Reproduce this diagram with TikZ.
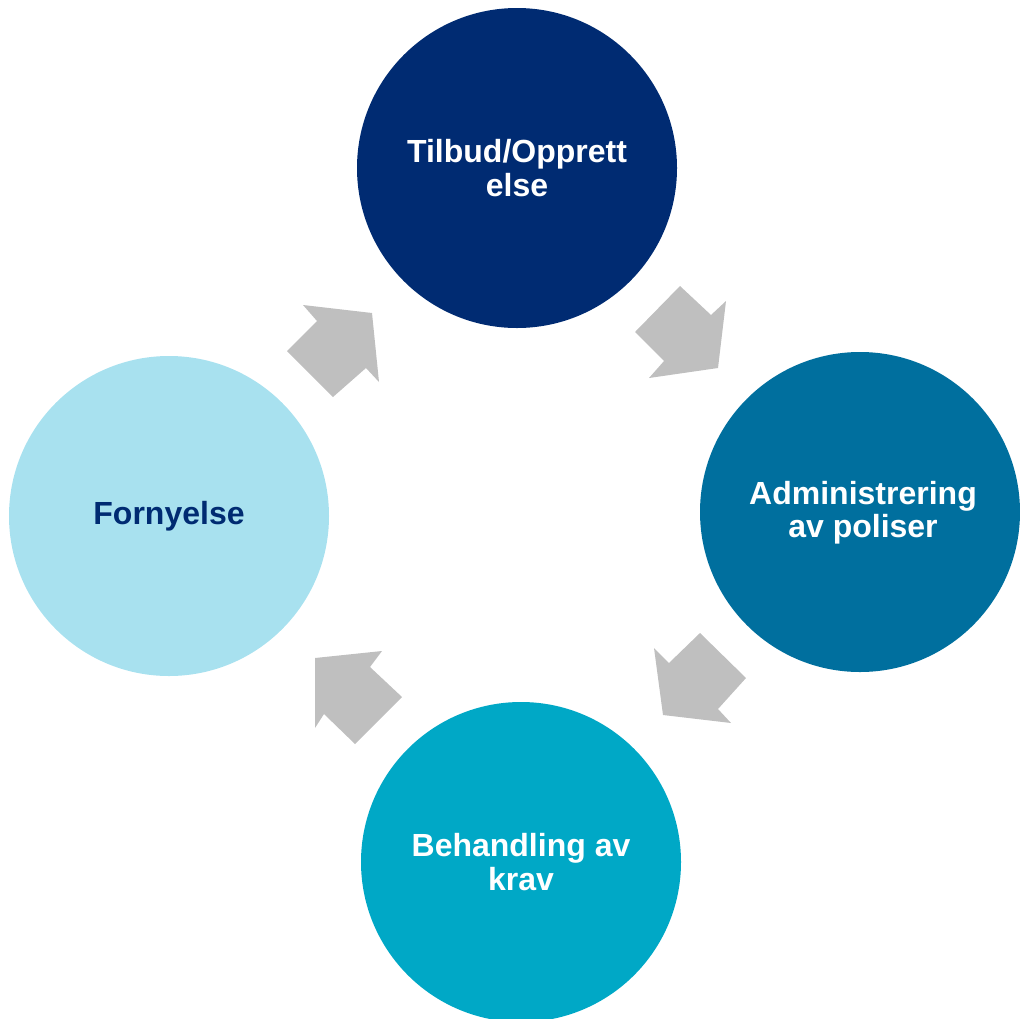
\documentclass[tikz,border=0pt]{standalone}
\usepackage{fontspec}
\setmainfont{Liberation Sans}
\definecolor{cnavy}{HTML}{002B72}
\definecolor{cteal}{HTML}{006F9E}
\definecolor{ccyan}{HTML}{00A8C6}
\definecolor{clight}{HTML}{A8E1EF}
\definecolor{cgray}{HTML}{BFBFBF}
\tikzset{
  stage/.style={circle,minimum size=240pt,inner sep=0pt,align=center,font=\bfseries\fontsize{24}{25}\selectfont},
  blockarrow/.style={fill=cgray,draw=none}
}
\begin{document}
\begin{tikzpicture}[x=0.75pt,y=-0.75pt]
\useasboundingbox (0,0) rectangle (1020,1018);
\clip (0,0) rectangle (1020,1018);
\node[stage,fill=cnavy,text=white] (top) at (517,168) {Tilbud/Opprett\\else};
\node[stage,fill=cteal,text=white] (right) at (860,512) {};
\node[text=white,align=center,font=\bfseries\fontsize{24}{25}\selectfont] (righttext) at (863,513) {Administrering\\av poliser};
\node[stage,fill=ccyan,text=white] (bottom) at (521,862) {Behandling av\\krav};
\node[stage,fill=clight,text=cnavy] (left) at (169,516) {Fornyelse};
% arrows
\fill[blockarrow] (287,351) -- (333,397) -- (366,368) -- (379,382) -- (372,313) -- (303,305) -- (317,321) -- cycle;
\fill[blockarrow] (680,286) -- (635,332) -- (664,361) -- (649,378) -- (718,368) -- (726,301) -- (711,315) -- cycle;
\fill[blockarrow] (700,633) -- (746,678) -- (718,709) -- (731,723) -- (663,715) -- (654,648) -- (669,663) -- cycle;
\fill[blockarrow] (402,697) -- (355,744) -- (324,714) -- (315,728) -- (315,658) -- (382,651) -- (370,667) -- cycle;
\end{tikzpicture}
\end{document}
